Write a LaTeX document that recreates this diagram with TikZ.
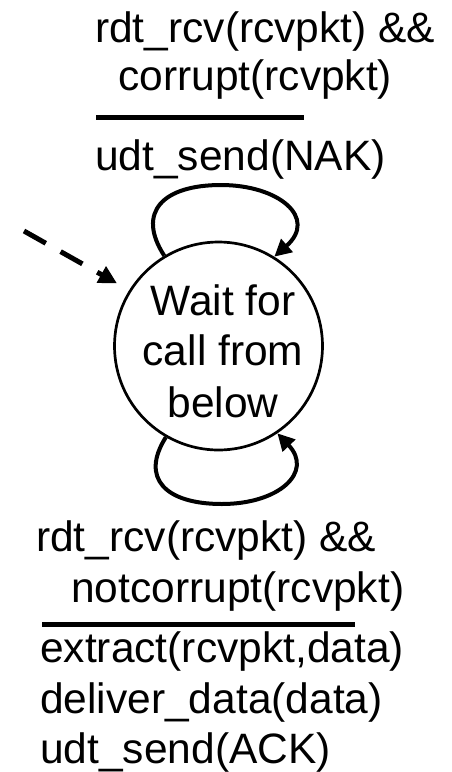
\documentclass[tikz,border=0pt]{standalone}
\usepackage{fontspec}
\setmainfont{Liberation Sans}
\usetikzlibrary{arrows.meta}
\begin{document}
\begin{tikzpicture}[x=1pt,y=-1pt,
  lbl/.style={anchor=base west,inner sep=0pt,font=\fontsize{42.5}{50}\selectfont},
  ctext/.style={anchor=base,inner sep=0pt,font=\fontsize{42.5}{50}\selectfont},
  state/.style={circle,draw,line width=2.7pt,minimum size=208pt,inner sep=0pt},
  loop/.style={line width=4pt,-{Triangle[length=17pt,width=17pt]}},
  guard/.style={line width=5pt},
  init/.style={line width=5pt,dash pattern=on 25pt off 17pt,-{Triangle[length=18pt,width=18pt]}}]
\useasboundingbox (0,0) rectangle (452,772);
% state
\node[state] (c) at (218.5,346) {};
\node[ctext] (t1) at (223,315) {Wait for};
\node[ctext] (t2) at (223,365) {call from};
\node[ctext] (t3) at (223,417) {below};
% top label
\node[lbl] (a1) at (95,42) {rdt\_rcv(rcvpkt) \&\&};
\node[lbl] (a2) at (118,90) {corrupt(rcvpkt)};
\coordinate (g1a) at (96,117);
\coordinate (g1b) at (304,117);
\draw[guard] (g1a) -- (g1b);
\node[lbl] (a3) at (95,170) {udt\_send(NAK)};
% bottom label
\node[lbl] (b1) at (36,551) {rdt\_rcv(rcvpkt) \&\&};
\node[lbl] (b2) at (71,602) {notcorrupt(rcvpkt)};
\coordinate (g2a) at (42,624);
\coordinate (g2b) at (355,624);
\draw[guard] (g2a) -- (g2b);
\node[lbl] (b3) at (40,662) {extract(rcvpkt,data)};
\node[lbl] (b4) at (40,713) {deliver\_data(data)};
\node[lbl] (b5) at (40,763) {udt\_send(ACK)};
% loops
\coordinate (ttop) at (221,185);
\draw[loop] (c.121) .. controls (136,212) and (163,185) .. (ttop)
  .. controls (279,185) and (318,218) .. (c.58);
\coordinate (bbot) at (222,504);
\draw[loop] (c.-120) .. controls (140,478) and (165,504) .. (bbot)
  .. controls (279,504) and (314,472) .. (c.-56);
% initial
\coordinate (start) at (24,231);
\draw[init] (start) -- (c.148) [shorten >=14pt];
\end{tikzpicture}
\end{document}
